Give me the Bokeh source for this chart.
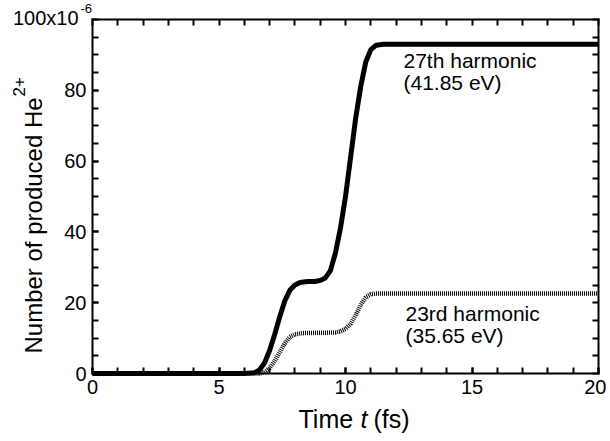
import math
from bokeh.plotting import figure
from bokeh.models import Range1d, LinearAxis, Label, FixedTicker
from bokeh.embed import file_html
from bokeh.resources import INLINE

# Data (values in units of 1e-6)
t_27 = [0, 6.0, 6.4, 6.6, 6.8, 7.0, 7.2, 7.4, 7.6, 7.8, 8.0, 8.2, 8.5, 8.8, 9.0, 9.2, 9.4,
        9.6, 9.8, 10.0, 10.2, 10.4, 10.6, 10.8, 11.0, 11.2, 11.5, 20]
n_27 = [0, 0, 0.2, 1.0, 3.0, 6.5, 11.0, 16.0, 20.5, 23.5, 25.0, 25.7, 26.0, 26.0, 26.3, 27.0, 29.0,
        34.0, 41.0, 50.0, 61.0, 72.0, 81.0, 88.0, 91.5, 92.7, 93.0, 93.0]
t_23 = [0, 6.6, 6.8, 7.0, 7.2, 7.4, 7.6, 7.8, 8.0, 8.3, 9.0, 9.6, 9.8, 10.0, 10.2, 10.4,
        10.6, 10.8, 11.0, 11.2, 20]
n_23 = [0, 0, 0.3, 1.5, 3.5, 6.0, 8.5, 10.3, 11.1, 11.4, 11.5, 11.6, 11.9, 12.6, 14.0, 16.5,
        19.3, 21.5, 22.4, 22.6, 22.6]

x_ticks = [0, 5, 10, 15, 20]
x_minor = list(range(0, 21))
y_ticks = [0, 20, 40, 60, 80]
y_minor = list(range(0, 101, 5))

FONT = "Liberation Sans"

# plot-area geometry in canvas pixels
FL, FR, FT, FB = 92, 598, 19, 373
W, H = 606, 440
X0, X1, Y0, Y1 = 0, 20, 0, 100


def dx(px):
    return X0 + (px - FL) * (X1 - X0) / (FR - FL)


def dy(py):
    return Y0 + (FB - py) * (Y1 - Y0) / (FB - FT)


p = figure(width=W, height=H, output_backend="svg", toolbar_location=None,
           x_range=Range1d(dx(0), dx(W)), y_range=Range1d(dy(H), dy(0)),
           x_axis_location=None, y_axis_location=None,
           min_border=0, min_border_left=0, min_border_right=0,
           min_border_top=0, min_border_bottom=0)
p.grid.visible = False
p.outline_line_color = None
p.background_fill_color = "white"
p.border_fill_color = "white"

p.line(t_27, n_27, line_color="black", line_width=5)
p.line(t_23, n_23, line_color="black", line_width=4.5, line_dash="1 1")


def style_axis(ax):
    ax.axis_line_width = 2
    ax.axis_line_color = "black"
    ax.axis_line_cap = "square"
    ax.major_tick_in = 6
    ax.major_tick_out = 0
    ax.minor_tick_in = 6
    ax.minor_tick_out = 0
    ax.major_tick_line_width = 2
    ax.minor_tick_line_width = 2
    ax.major_tick_line_color = "black"
    ax.minor_tick_line_color = "black"
    ax.major_label_text_font = FONT
    ax.major_label_text_font_size = "20px"
    ax.major_label_text_color = "black"
    ax.major_label_standoff = 6


bottom = LinearAxis(ticker=FixedTicker(ticks=x_ticks, minor_ticks=x_minor),
                    fixed_location=Y0, bounds=(X0, X1))
style_axis(bottom)
p.add_layout(bottom, "below")

left = LinearAxis(ticker=FixedTicker(ticks=y_ticks, minor_ticks=y_minor),
                  fixed_location=X0, bounds=(Y0, Y1))
style_axis(left)
p.add_layout(left, "left")

top = LinearAxis(ticker=FixedTicker(ticks=[], minor_ticks=x_minor),
                 fixed_location=Y1, bounds=(X0, X1))
style_axis(top)
p.add_layout(top, "above")

right = LinearAxis(ticker=FixedTicker(ticks=[], minor_ticks=y_minor),
                   fixed_location=X1, bounds=(Y0, Y1))
style_axis(right)
p.add_layout(right, "right")


def lab(text, px, py, size, angle=0.0, style="normal", align="left"):
    # px, py: baseline start in canvas pixels as measured on the reference
    shift = 0.36 * size
    if angle:
        px -= shift
    else:
        py -= shift
    p.add_layout(Label(x=dx(px), y=dy(py), text=text,
                       text_font=FONT, text_font_size=f"{size}px", text_color="black",
                       text_font_style=style, angle=angle, text_align=align,
                       text_baseline="alphabetic"))


# axis titles
lab("Time", 298, 427, 25)
lab("t", 360, 427, 25, style="italic")
lab("(fs)", 373, 427, 25)
lab("Number of produced He", 42, 353, 24, angle=math.pi / 2)
lab("2+", 25, 96, 17, angle=math.pi / 2)
lab("100x10", 78, 25, 20, align="right")
lab("-6", 80, 13, 13)

# annotations
lab("27th harmonic", 403, 68, 21)
lab("(41.85 eV)", 403, 90, 21)
lab("23rd harmonic", 405, 321, 21)
lab("(35.65 eV)", 405, 343, 21)

open("out.html", "w").write(file_html(p, INLINE))
